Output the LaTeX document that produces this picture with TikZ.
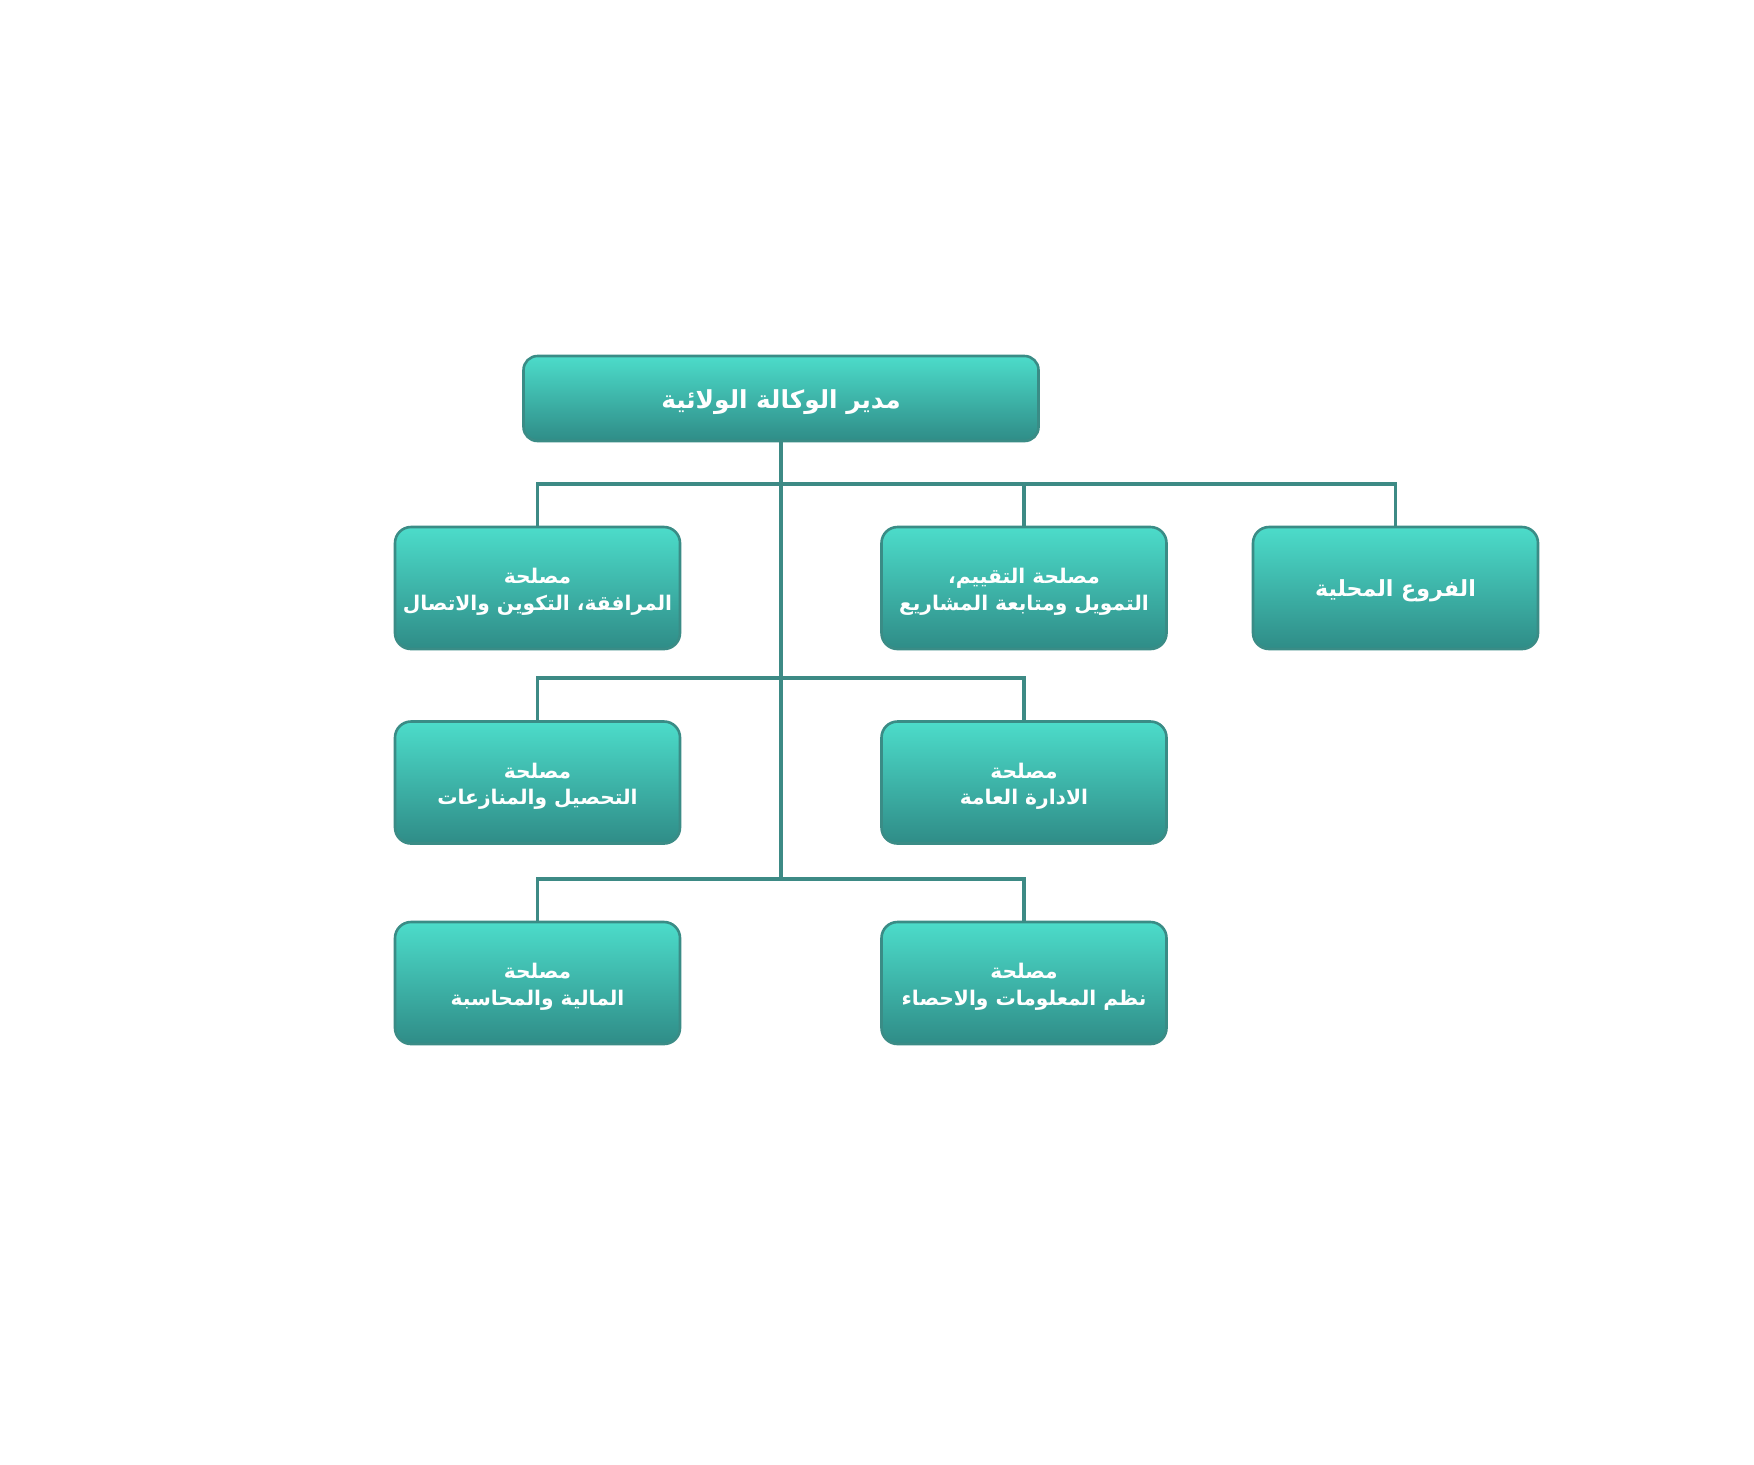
\documentclass[tikz,border=0pt]{standalone}
\usepackage{fontspec}
\TeXXeTstate=1
\newfontfamily\arabicfont[Script=Arabic]{DejaVu Sans}
\definecolor{boxtop}{HTML}{4CDCCA}
\definecolor{boxbot}{HTML}{2F8C87}
\definecolor{boxline}{HTML}{3A8C86}
\definecolor{conn}{HTML}{3D8A85}
\newcommand\onelbl[1]{\raisebox{-1.6pt}[\height][\depth]{#1}}
\newcommand\twolbl[2]{\raisebox{-1.8pt}[\height][\depth]{\begin{tabular}{@{}c@{}}#1\\#2\end{tabular}}}
\tikzset{
  orgbox/.style={draw=boxline, line width=1.3pt, rounded corners=8pt,
    top color=boxtop, bottom color=boxbot, text=white,
    minimum width=142.5pt, minimum height=61pt, inner sep=0pt,
    align=center, font=\arabicfont\bfseries\fontsize{10.1}{13.4}\selectfont},
  bigtext/.style={font=\arabicfont\bfseries\fontsize{11.1}{13.4}\selectfont},
  topbox/.style={orgbox, minimum width=257.5pt, minimum height=42.5pt, rounded corners=7pt,
    font=\arabicfont\bfseries\fontsize{12.4}{14}\selectfont},
  connector/.style={draw=conn, line width=1.6pt}
}
\begin{document}
\begin{tikzpicture}[x=0.5pt,y=-0.5pt]
\useasboundingbox (0,0) rectangle (1754,1464);
\fill[white] (0,0) rectangle (1754,1464);
% nodes
\node[topbox] (top) at (781,398.5) {\onelbl{\beginR مدير الوكالة الولائية\endR}};
\node[orgbox] (r1a) at (537.5,588) {\twolbl{\beginR مصلحة\endR}{\beginR المرافقة، التكوين والاتصال\endR}};
\node[orgbox] (r1b) at (1024,588) {\twolbl{\beginR مصلحة التقييم،\endR}{\beginR التمويل ومتابعة المشاريع\endR}};
\node[orgbox,bigtext] (r1c) at (1395.5,588) {\onelbl{\beginR الفروع المحلية\endR}};
\node[orgbox] (r2a) at (537.5,782.5) {\twolbl{\beginR مصلحة\endR}{\beginR التحصيل والمنازعات\endR}};
\node[orgbox] (r2b) at (1024,782.5) {\twolbl{\beginR مصلحة\endR}{\beginR الادارة العامة\endR}};
\node[orgbox] (r3a) at (537.5,983) {\twolbl{\beginR مصلحة\endR}{\beginR المالية والمحاسبة\endR}};
\node[orgbox] (r3b) at (1024,983) {\twolbl{\beginR مصلحة\endR}{\beginR نظم المعلومات والاحصاء\endR}};
% junctions
\coordinate (j1) at (top.south |- 0,484);
\coordinate (j2) at (top.south |- 0,678);
\coordinate (j3) at (top.south |- 0,879);
% connectors
\draw[connector] (top.south) -- (j3);
\draw[connector] (r1a.north) |- (j1) -| (r1b.north);
\draw[connector] (j1) -| (r1c.north);
\draw[connector] (r2a.north) |- (j2) -| (r2b.north);
\draw[connector] (r3a.north) |- (j3) -| (r3b.north);
\end{tikzpicture}
\end{document}
